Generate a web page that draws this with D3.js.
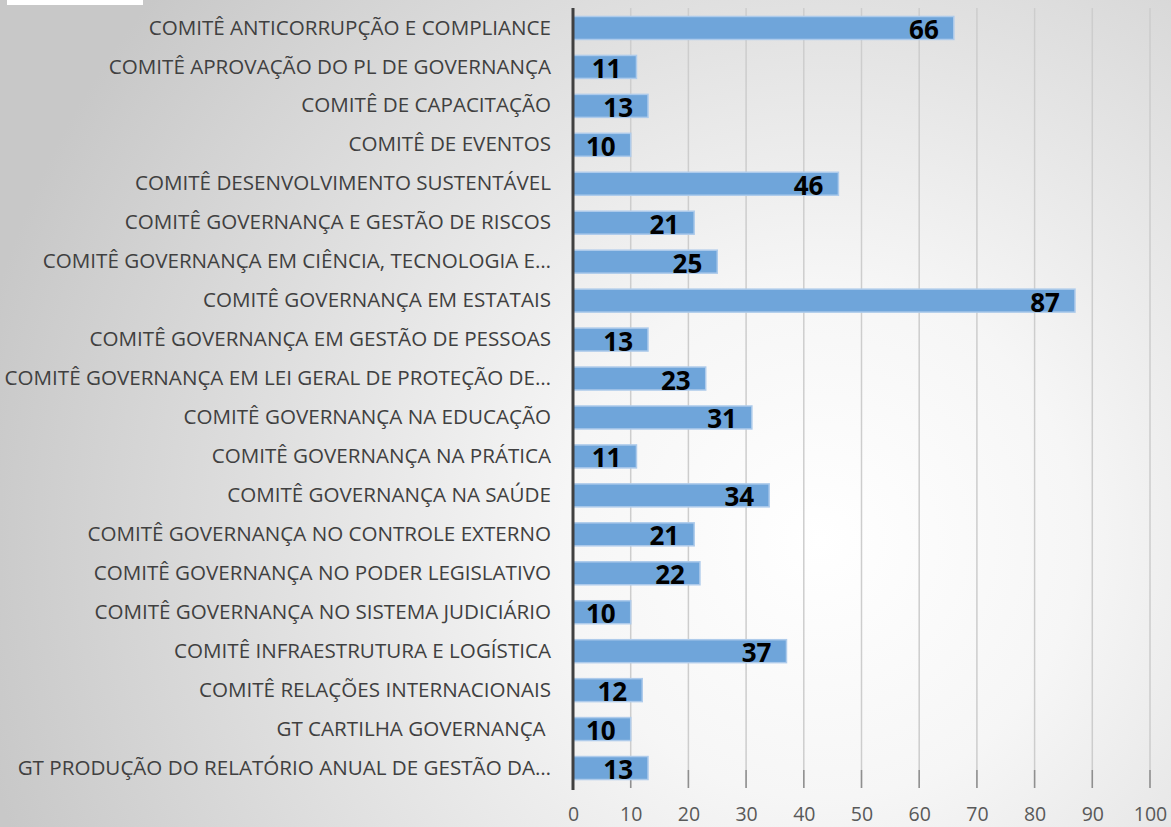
<!DOCTYPE html>
<html>
<head>
<meta charset="utf-8" />
<title>Comitês</title>
<script src="https://d3js.org/d3.v7.min.js"></script>
<style>
  body { margin: 0; overflow: hidden; }
  svg { display: block; }
</style>
</head>
<body>
<svg width="1171" height="827"></svg>
<script>
// data
const categories = [
  "COMITÊ ANTICORRUPÇÃO E COMPLIANCE",
  "COMITÊ APROVAÇÃO DO PL DE GOVERNANÇA",
  "COMITÊ DE CAPACITAÇÃO",
  "COMITÊ DE EVENTOS",
  "COMITÊ DESENVOLVIMENTO SUSTENTÁVEL",
  "COMITÊ GOVERNANÇA E GESTÃO DE RISCOS",
  "COMITÊ GOVERNANÇA EM CIÊNCIA, TECNOLOGIA E…",
  "COMITÊ GOVERNANÇA EM ESTATAIS",
  "COMITÊ GOVERNANÇA EM GESTÃO DE PESSOAS",
  "COMITÊ GOVERNANÇA EM LEI GERAL DE PROTEÇÃO DE…",
  "COMITÊ GOVERNANÇA NA EDUCAÇÃO",
  "COMITÊ GOVERNANÇA NA PRÁTICA",
  "COMITÊ GOVERNANÇA NA SAÚDE",
  "COMITÊ GOVERNANÇA NO CONTROLE EXTERNO",
  "COMITÊ GOVERNANÇA NO PODER LEGISLATIVO",
  "COMITÊ GOVERNANÇA NO SISTEMA JUDICIÁRIO",
  "COMITÊ INFRAESTRUTURA E LOGÍSTICA",
  "COMITÊ RELAÇÕES INTERNACIONAIS",
  "GT CARTILHA GOVERNANÇA ",
  "GT PRODUÇÃO DO RELATÓRIO ANUAL DE GESTÃO DA…"
];
const values = [66, 11, 13, 10, 46, 21, 25, 87, 13, 23, 31, 11, 34, 21, 22, 10, 37, 12, 10, 13];
const ticks = [0, 10, 20, 30, 40, 50, 60, 70, 80, 90, 100];

const svg = d3.select('svg');
const width = +svg.attr('width');
const height = +svg.attr('height');

// background
const defs = svg.append('defs');
const grad = defs.append('radialGradient')
  .attr('id', 'bg')
  .attr('gradientUnits', 'userSpaceOnUse')
  .attr('cx', 820).attr('cy', 540).attr('r', 860);
grad.append('stop').attr('offset', '0%').attr('stop-color', '#ffffff');
grad.append('stop').attr('offset', '30%').attr('stop-color', '#f6f6f6');
grad.append('stop').attr('offset', '100%').attr('stop-color', '#c8c8c8');
svg.append('rect').attr('width', width).attr('height', height).attr('fill', 'url(#bg)');
svg.append('rect').attr('x', 7).attr('y', 0).attr('width', 136).attr('height', 5).attr('fill', '#ffffff');

const x = d3.scaleLinear().domain([0, 100]).range([573, 1150]);
const y = d3.scaleBand().domain(categories).range([8.5, 787.5]).paddingInner(0.41).paddingOuter(0.205);

// gridlines
svg.append('g').selectAll('line')
  .data(ticks.slice(1))
  .join('line')
  .attr('x1', d => x(d)).attr('x2', d => x(d))
  .attr('y1', 8).attr('y2', 788)
  .attr('stroke', '#cdcdcd').attr('stroke-width', 1.5);

// bottom axis with tick marks
const xAxis = svg.append('g')
  .attr('transform', 'translate(0,788)')
  .call(d3.axisBottom(x).tickValues(ticks).tickSize(0).tickPadding(19));
xAxis.select('.domain').remove();
xAxis.selectAll('text')
  .attr('font-family', 'Open Sans, sans-serif')
  .attr('font-size', 19.5)
  .attr('fill', '#595959');
svg.append('g').selectAll('line')
  .data(ticks.slice(1))
  .join('line')
  .attr('x1', d => x(d)).attr('x2', d => x(d))
  .attr('y1', 770).attr('y2', 788)
  .attr('stroke', '#8f8f8f').attr('stroke-width', 1.5);

// bars
svg.append('g').selectAll('rect')
  .data(values)
  .join('rect')
  .attr('x', x(0))
  .attr('y', (d, i) => y(categories[i]))
  .attr('width', d => x(d) - x(0))
  .attr('height', y.bandwidth())
  .attr('fill', '#6fa5da')
  .attr('stroke', '#aecbeb')
  .attr('stroke-width', 1.5);

// value labels
svg.append('g').selectAll('text')
  .data(values)
  .join('text')
  .attr('x', d => x(d) - 15)
  .attr('y', (d, i) => y(categories[i]) + y.bandwidth() / 2 + 11)
  .attr('text-anchor', 'end')
  .attr('font-family', 'Open Sans, sans-serif')
  .attr('font-weight', 'bold')
  .attr('font-size', 26)
  .attr('fill', '#000')
  .text(d => d);

// category labels
const yAxis = svg.append('g')
  .attr('transform', 'translate(' + x(0) + ',0)')
  .call(d3.axisLeft(y).tickSize(0).tickPadding(22));
yAxis.select('.domain').remove();
yAxis.selectAll('text')
  .attr('font-family', 'Open Sans, sans-serif')
  .attr('font-size', 20.6)
  .attr('fill', '#404040')
  .style('white-space', 'pre');

// vertical axis line
svg.append('line')
  .attr('x1', x(0)).attr('x2', x(0))
  .attr('y1', 8).attr('y2', 790)
  .attr('stroke', '#404040').attr('stroke-width', 3);
</script>
</body>
</html>
